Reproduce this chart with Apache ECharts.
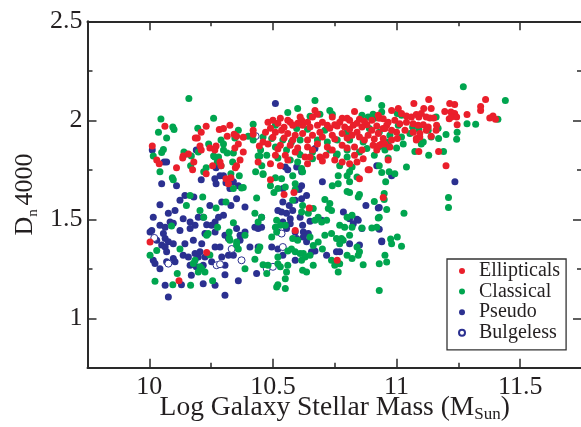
<!DOCTYPE html>
<html>
<head>
<meta charset="utf-8">
<script src="https://cdn.jsdelivr.net/npm/echarts@6/dist/echarts.min.js"></script>
<style>
  html, body { margin: 0; padding: 0; background: #fff; }
  #chart { width: 581px; height: 427px; }
</style>
</head>
<body>
<div id="chart"></div>
<script>
// [log stellar mass, Dn4000] per galaxy, grouped by bulge type
const ellipticals = [
  [10.063,1.97],[10.012,1.87],[10.03,1.80],[10.04,1.78],[10.11,1.76],[10.23,1.97],[10.21,1.94],[10.194,1.91],
  [10.186,1.91],[10.283,1.953],[10.30,1.958],[10.326,1.975],[10.315,1.92],[10.343,1.93],[10.353,1.92],[10.38,1.915],
  [10.42,1.95],[10.42,1.93],[10.445,1.87],[10.46,1.89],[10.44,1.79],[10.36,1.88],[10.346,1.86],[10.38,1.84],
  [10.245,1.86],[10.27,1.87],[10.265,1.85],[10.205,1.87],[10.21,1.85],[10.158,1.83],[10.137,1.82],[10.135,1.81],
  [10.18,1.79],[10.175,1.75],[10.23,1.73],[10.256,1.77],[10.286,1.79],[10.29,1.77],[10.367,1.80],[10.353,1.77],
  [10.348,1.76],[10.31,1.705],[10.32,1.68],[10.33,1.71],
  [10.67,2.05],[10.68,2.03],[10.83,2.045],[10.926,2.025],[10.61,2.017],[10.616,2.0],[10.66,2.017],[10.74,2.017],
  [10.78,2.01],[10.80,2.01],[10.81,2.0],[10.85,2.005],[10.90,2.0],[10.93,2.01],[10.48,1.99],[10.50,2.0],
  [10.53,2.01],[10.57,1.99],[10.58,1.975],[10.62,1.975],[10.65,1.966],[10.68,1.975],[10.72,1.975],[10.75,1.978],
  [10.76,1.971],[10.79,1.966],[10.825,1.975],[10.86,1.966],[10.88,1.978],[10.92,1.971],[10.945,1.958],
  [10.47,1.94],[10.51,1.94],[10.535,1.95],[10.56,1.933],[10.59,1.924],[10.62,1.933],[10.66,1.924],[10.70,1.916],
  [10.74,1.924],[10.78,1.933],[10.82,1.924],[10.85,1.916],[10.885,1.924],[10.926,1.933],
  [10.48,1.88],[10.53,1.874],[10.57,1.874],[10.64,1.865],[10.68,1.88],[10.72,1.865],[10.78,1.874],[10.83,1.865],
  [10.905,1.874],[10.94,1.88],[10.51,1.823],[10.55,1.823],[10.59,1.84],[10.63,1.815],[10.69,1.815],[10.714,1.823],
  [10.83,1.823],[10.865,1.806],[10.49,1.78],[10.53,1.77],[10.65,1.815],[10.64,1.78],[10.78,1.79],[10.81,1.78],
  [10.89,1.75],[10.49,1.70],[10.85,1.705],[10.885,1.75],
  [10.49,1.96],[10.52,1.985],[10.545,1.965],[10.56,2.0],[10.60,1.985],[10.64,1.99],[10.70,1.99],[10.73,1.96],
  [10.77,1.99],[10.81,1.955],[10.84,1.985],[10.87,1.995],[10.90,1.95],[10.96,1.975],[10.50,1.915],[10.545,1.91],
  [10.58,1.90],[10.64,1.90],[10.69,1.94],[10.75,1.905],[10.80,1.91],[10.84,1.94],[10.87,1.90],[10.91,1.905],
  [10.52,1.855],[10.60,1.86],[10.66,1.85],[10.74,1.85],[10.80,1.86],[10.86,1.85],[10.92,1.85],[10.56,1.80],
  [10.70,1.795],[10.75,1.80],[10.84,1.79],
  [11.36,2.105],[11.13,2.105],[11.07,2.085],[11.215,2.085],[11.235,2.08],[11.34,2.07],[11.34,2.05],[11.11,2.06],
  [11.14,2.06],[10.98,2.05],[11.007,2.06],[11.195,2.045],[11.22,2.042],[11.235,2.034],[11.285,2.029],[11.213,2.008],
  [11.222,2.017],[11.243,2.017],[11.377,2.012],[11.39,2.022],[11.40,2.005],[11.245,1.978],
  [11.02,2.034],[11.04,2.022],[11.06,2.017],[11.08,2.029],[11.09,2.017],[11.10,2.034],[11.12,2.017],[11.135,2.012],
  [11.15,2.012],[10.946,2.008],[10.966,1.99],[10.993,2.0],[11.013,1.983],[11.04,1.99],[11.067,1.983],[11.087,1.975],
  [11.108,1.978],[11.128,1.966],[11.162,1.975],[11.16,1.95],[10.953,1.958],[10.98,1.95],[11.0,1.94],[11.034,1.95],
  [11.067,1.94],[11.094,1.933],[11.12,1.95],[10.946,1.908],[10.98,1.90],[11.003,1.908],[11.08,1.908],[11.094,1.916],
  [11.14,1.92],[10.93,1.874],[10.953,1.88],[10.973,1.865],[11.08,1.90],[11.09,1.843],[11.17,1.843],[10.966,1.80],
  [11.2,1.77],[10.946,1.61],
  [10.003,1.385],[10.232,1.332],[10.12,1.19],[10.545,1.625],[10.585,1.635],[10.647,1.557],[10.59,1.444],[10.76,1.293]
];

const classical = [
  [10.16,2.11],[10.047,2.007],[10.095,1.966],[10.10,1.953],[10.037,1.94],[10.07,1.91],[10.016,1.82],[10.057,1.853],
  [10.05,1.837],[10.043,1.74],[10.093,1.71],[10.097,1.70],[10.26,2.01],[10.196,1.96],[10.36,1.95],[10.29,1.90],
  [10.346,1.91],[10.40,1.92],[10.42,1.98],[10.42,1.90],[10.45,1.85],[10.44,1.82],[10.447,1.82],[10.43,1.74],
  [10.46,1.73],[10.30,1.88],[10.34,1.835],[10.30,1.85],[10.315,1.835],[10.26,1.82],[10.265,1.815],[10.28,1.815],
  [10.24,1.88],[10.198,1.84],[10.14,1.84],[10.15,1.83],[10.17,1.82],[10.167,1.77],[10.22,1.74],[10.23,1.76],
  [10.275,1.79],[10.29,1.77],[10.337,1.79],[10.364,1.72],[10.33,1.73],[10.38,1.66],
  [10.67,2.10],[10.885,2.11],[10.60,2.06],[10.56,2.04],[10.73,2.05],[10.74,2.03],[10.86,2.025],[10.885,2.017],
  [10.905,2.03],[10.91,2.01],[10.65,2.02],[10.69,2.03],[10.51,1.975],[10.596,1.958],[10.64,1.955],[10.71,1.95],
  [10.80,1.94],[10.89,1.958],[10.46,1.916],[10.495,1.908],[10.54,1.90],[10.575,1.89],[10.61,1.90],[10.68,1.90],
  [10.72,1.89],[10.76,1.90],[10.81,1.90],[10.865,1.89],[10.51,1.865],[10.555,1.85],[10.60,1.84],[10.66,1.84],
  [10.73,1.85],[10.76,1.83],[10.80,1.85],[10.85,1.84],[10.88,1.857],[10.926,1.865],[10.95,1.865],[10.475,1.823],
  [10.52,1.81],[10.57,1.80],[10.61,1.826],[10.66,1.806],[10.757,1.823],[10.80,1.815],[10.91,1.823],[10.455,1.77],
  [10.60,1.79],[10.616,1.756],[10.77,1.77],[10.82,1.764],[10.764,1.72],[10.81,1.74],[10.84,1.714],[10.80,1.72],
  [10.46,1.726],[10.51,1.71],[10.535,1.705],[10.58,1.72],[10.62,1.74],[10.59,1.68],[10.81,1.69],[10.74,1.67],
  [10.764,1.68],[10.49,1.67],[10.52,1.655],
  [11.27,2.17],[11.44,2.10],[10.94,2.075],[11.003,2.034],[10.94,2.042],[11.02,2.025],[11.41,2.005],[11.285,1.983],
  [11.32,1.98],[11.16,2.017],[11.007,1.975],[11.065,1.966],[11.09,1.955],[11.128,1.95],[11.168,1.96],[10.93,1.94],
  [10.973,1.924],[11.02,1.916],[11.054,1.933],[11.14,1.916],[11.17,1.908],[11.20,1.928],[11.245,1.94],[11.243,1.904],
  [10.966,1.89],[11.027,1.88],[11.10,1.88],[11.108,1.89],[10.953,1.85],[11.0,1.86],[11.074,1.843],[11.19,1.843],
  [11.13,1.823],[10.966,1.81],[10.93,1.77],[11.04,1.764],[10.97,1.74],[10.993,1.73],[10.94,1.736],[10.956,1.69],
  [10.95,1.63],[11.21,1.61],[11.21,1.56],[10.96,1.55],[11.03,1.53],[10.93,1.51],[10.976,1.40],[11.003,1.41],
  [10.98,1.377],[11.02,1.364],[10.96,1.284],
  [10.165,1.62],[10.216,1.613],[10.15,1.57],[10.205,1.545],[10.27,1.557],[10.31,1.587],[10.34,1.655],[10.373,1.658],
  [10.434,1.607],[10.427,1.53],[10.44,1.486],[10.454,1.51],[10.09,1.466],[10.22,1.51],[10.276,1.46],[10.323,1.436],
  [10.34,1.483],[10.238,1.428],[10.232,1.42],[10.323,1.406],[10.326,1.394],[10.353,1.385],[10.353,1.37],[10.36,1.35],
  [10.387,1.42],[10.44,1.343],[10.447,1.36],[10.124,1.35],[10.03,1.343],[10.003,1.318],[10.245,1.32],[10.178,1.277],
  [10.185,1.293],[10.205,1.26],[10.212,1.25],[10.225,1.234],[10.198,1.234],[10.113,1.226],[10.387,1.25],[10.427,1.298],
  [10.46,1.27],[10.023,1.187],[10.095,1.17],[10.167,1.167],[10.256,1.19],
  [10.504,1.635],[10.55,1.663],[10.59,1.65],[10.58,1.596],[10.62,1.57],[10.616,1.537],[10.643,1.53],[10.663,1.554],
  [10.71,1.60],[10.73,1.58],[10.737,1.545],[10.724,1.554],[10.81,1.635],[10.85,1.625],[10.845,1.613],[10.80,1.64],
  [10.91,1.59],[10.95,1.60],[10.683,1.51],[10.697,1.486],[10.717,1.495],[10.67,1.495],[10.80,1.51],[10.82,1.52],
  [10.77,1.47],[10.79,1.46],[10.82,1.46],[10.86,1.456],[10.90,1.456],[10.926,1.507],[10.92,1.46],[10.515,1.495],
  [10.53,1.47],[10.51,1.46],[10.55,1.47],[10.515,1.436],[10.495,1.41],[10.58,1.403],[10.60,1.394],[10.65,1.41],
  [10.71,1.42],[10.737,1.428],[10.757,1.403],[10.777,1.403],[10.784,1.394],[10.77,1.377],[10.81,1.42],[10.70,1.35],
  [10.663,1.368],[10.575,1.35],[10.623,1.327],[10.56,1.34],[10.59,1.336],[10.61,1.327],[10.63,1.31],[10.616,1.293],
  [10.65,1.318],[10.683,1.385],[10.84,1.36],[10.85,1.336],[10.845,1.318],[10.80,1.318],[10.82,1.302],[10.865,1.27],
  [10.93,1.276],[10.953,1.318],[10.48,1.268],[10.475,1.226],[10.52,1.31],[10.52,1.276],[10.53,1.26],[10.56,1.268],
  [10.555,1.234],[10.62,1.243],[10.636,1.234],[10.663,1.268],[10.737,1.293],[10.75,1.268],[10.77,1.276],[10.764,1.234],
  [10.55,1.20],[10.52,1.17],[10.515,1.158],[10.55,1.15],[10.93,1.14]
];

const pseudo = [
  [10.012,1.85],[10.06,1.79],[10.07,1.79],[10.05,1.68],[10.11,1.67],[10.19,1.85],[10.27,1.76],[10.286,1.72],
  [10.30,1.72],[10.265,1.705],[10.31,1.685],[10.333,1.69],[10.34,1.69],[10.36,1.67],[10.21,1.70],[10.27,1.68],
  [10.326,1.655],[10.51,2.085],[10.55,1.764],[10.56,1.75],[10.596,1.764],[10.616,1.74],[10.67,1.857],[10.92,1.77],
  [10.70,1.69],[10.616,1.67],[10.596,1.655],[10.54,1.655],[10.98,1.72],[11.236,1.69],[10.93,1.56],[10.93,1.45],
  [10.94,1.39],
  [10.144,1.62],[10.124,1.596],[10.18,1.613],[10.043,1.574],[10.104,1.545],[10.293,1.587],[10.33,1.57],[10.353,1.604],
  [10.387,1.562],[10.245,1.57],[10.30,1.52],[10.28,1.51],[10.016,1.51],[10.077,1.53],[10.084,1.486],[10.043,1.47],
  [10.064,1.46],[10.097,1.48],[10.137,1.503],[10.165,1.486],[10.198,1.51],[10.185,1.47],[10.218,1.51],[10.232,1.473],
  [10.252,1.47],[10.266,1.486],[10.01,1.444],[10.003,1.436],[10.057,1.428],[10.124,1.444],[10.165,1.453],[10.225,1.428],
  [10.266,1.436],[10.306,1.42],[10.353,1.453],[10.367,1.42],[10.387,1.436],[10.427,1.46],[10.44,1.453],[10.03,1.394],
  [10.064,1.403],[10.077,1.386],[10.05,1.37],[10.064,1.36],[10.097,1.377],[10.144,1.377],[10.178,1.394],[10.212,1.377],
  [10.266,1.36],[10.286,1.36],[10.32,1.403],[10.367,1.394],[10.407,1.36],[10.44,1.36],[10.016,1.293],[10.023,1.277],
  [10.07,1.336],[10.07,1.285],[10.097,1.302],[10.104,1.285],[10.137,1.318],[10.158,1.31],[10.185,1.327],[10.198,1.31],
  [10.205,1.336],[10.225,1.31],[10.165,1.268],[10.19,1.26],[10.218,1.268],[10.252,1.285],[10.293,1.31],[10.32,1.318],
  [10.306,1.268],[10.34,1.318],[10.043,1.25],[10.434,1.226],[10.306,1.22],[10.17,1.217],[10.064,1.167],[10.218,1.175],
  [10.266,1.167],[10.36,1.19],[10.306,1.116],[10.077,1.108],[10.13,1.17],
  [10.606,1.65],[10.636,1.62],[10.616,1.604],[10.59,1.596],[10.566,1.57],[10.54,1.587],[10.52,1.545],[10.535,1.537],
  [10.555,1.53],[10.58,1.545],[10.61,1.51],[10.57,1.503],[10.785,1.537],[10.81,1.503],[10.84,1.50],[10.845,1.495],
  [10.825,1.478],[10.876,1.57],[10.926,1.557],[10.454,1.51],[10.454,1.46],[10.54,1.486],[10.57,1.478],[10.62,1.47],
  [10.65,1.49],[10.697,1.495],[10.52,1.436],[10.555,1.453],[10.59,1.436],[10.623,1.436],[10.643,1.428],[10.623,1.41],
  [10.596,1.403],[10.636,1.386],[10.495,1.36],[10.52,1.35],[10.54,1.318],[10.67,1.34],[10.656,1.336],[10.717,1.318],
  [10.77,1.336],[10.81,1.377],[10.86,1.453],[10.94,1.386],[10.85,1.37],[10.757,1.336],[10.59,1.293]
];

const bulgeless = [
  [10.02,1.406],[10.333,1.35],[10.077,1.276],[10.272,1.268],[10.286,1.273],[10.373,1.293],
  [10.535,1.428],[10.54,1.36],[10.475,1.25],[10.50,1.26],[10.43,1.92]
];

// axis ranges and tick positions
const massRange = [9.75, 11.75];
const dnRange = [0.75, 2.5];
const massTicks = [10, 10.5, 11, 11.5];
const massMinorTicks = [10.25, 10.75, 11.25];
const dnTicks = [1, 1.5, 2, 2.5];
const dnMinorTicks = [1.25, 1.75, 2.25];

const FONT = 'Liberation Serif';
const INK = '#231f20';
const FRAME = '#2a2a2a';
const COLORS = { ell: '#ea1f2b', cla: '#00a54f', pse: '#2b3090' };

function axisDef(kind, position, ticks, tickLen, withLine, withLabels) {
  const isX = kind === 'x';
  const range = isX ? massRange : dnRange;
  return {
    type: 'value',
    position: position,
    min: range[0],
    max: range[1],
    axisLine: { show: withLine, onZero: false, lineStyle: { color: FRAME, width: 2 } },
    axisTick: { show: true, inside: true, length: tickLen, customValues: ticks,
                lineStyle: { color: FRAME, width: 1.5 } },
    axisLabel: withLabels
      ? { show: true, customValues: ticks, margin: isX ? 6 : 5,
          fontFamily: FONT, fontSize: 26, color: INK }
      : { show: false },
    splitLine: { show: false }
  };
}

const xMain = axisDef('x', 'bottom', massTicks, 9, true, true);
xMain.name = '{a|Log Galaxy Stellar Mass (M}{b|Sun}{a|)}';
xMain.nameLocation = 'middle';
xMain.nameGap = 25;
xMain.nameMoveOverlap = false;
xMain.nameTextStyle = {
  fontFamily: FONT, fontSize: 27.5, color: INK,
  rich: {
    a: { fontFamily: FONT, fontSize: 27.5, color: INK, lineHeight: 30 },
    b: { fontFamily: FONT, fontSize: 17, color: INK, lineHeight: 6, verticalAlign: 'bottom' }
  }
};

const yMain = axisDef('y', 'left', dnTicks, 9, true, true);
yMain.name = '{a|D}{b|n }{a|4000}';
yMain.nameLocation = 'middle';
yMain.nameRotate = 90;
yMain.nameGap = 47;
yMain.nameMoveOverlap = false;
yMain.nameTextStyle = {
  fontFamily: FONT, fontSize: 26, color: INK,
  rich: {
    a: { fontFamily: FONT, fontSize: 26, color: INK, lineHeight: 30 },
    b: { fontFamily: FONT, fontSize: 15, color: INK, lineHeight: 2, verticalAlign: 'bottom' }
  }
};

const chart = echarts.init(document.getElementById('chart'), null, { renderer: 'canvas' });

function scatter(name, data, style, z) {
  return {
    name: name, type: 'scatter', data: data,
    xAxisIndex: 0, yAxisIndex: 0,
    symbol: 'circle', symbolSize: 7,
    itemStyle: Object.assign({ opacity: 1 }, style), z: z,
    emphasis: { disabled: true }
  };
}

chart.setOption({
  animation: false,
  backgroundColor: '#ffffff',
  grid: {
    left: 87.5, top: 21.3, width: 494.5, height: 346.5,
    containLabel: false, outerBoundsMode: 'none'
  },
  xAxis: [
    xMain,
    axisDef('x', 'bottom', massMinorTicks, 5, false, false),
    axisDef('x', 'top', massTicks, 9, true, false),
    axisDef('x', 'top', massMinorTicks, 5, false, false)
  ],
  yAxis: [
    yMain,
    axisDef('y', 'left', dnMinorTicks, 5, false, false),
    axisDef('y', 'right', dnTicks, 9, true, false),
    axisDef('y', 'right', dnMinorTicks, 5, false, false)
  ],
  legend: {
    orient: 'vertical',
    left: 447, top: 259,
    padding: [2, 6, 7, 11],
    itemWidth: 6, itemHeight: 6, itemGap: 0.6,
    backgroundColor: '#fff',
    borderColor: '#333', borderWidth: 1.3, borderRadius: 0,
    textStyle: { fontFamily: FONT, fontSize: 20, color: INK, lineHeight: 20, padding: [0, 0, 0, 9] },
    data: [
      { name: 'Ellipticals', icon: 'circle' },
      { name: 'Classical', icon: 'circle' },
      { name: 'Pseudo', icon: 'circle' },
      { name: 'Bulgeless', icon: 'circle' }
    ],
    selectedMode: false
  },
  series: [
    scatter('Pseudo', pseudo, { color: COLORS.pse }, 2),
    scatter('Bulgeless', bulgeless, { color: '#ffffff', borderColor: COLORS.pse, borderWidth: 1 }, 3),
    scatter('Classical', classical, { color: COLORS.cla }, 4),
    scatter('Ellipticals', ellipticals, { color: COLORS.ell }, 5)
  ]
});
</script>
</body>
</html>
